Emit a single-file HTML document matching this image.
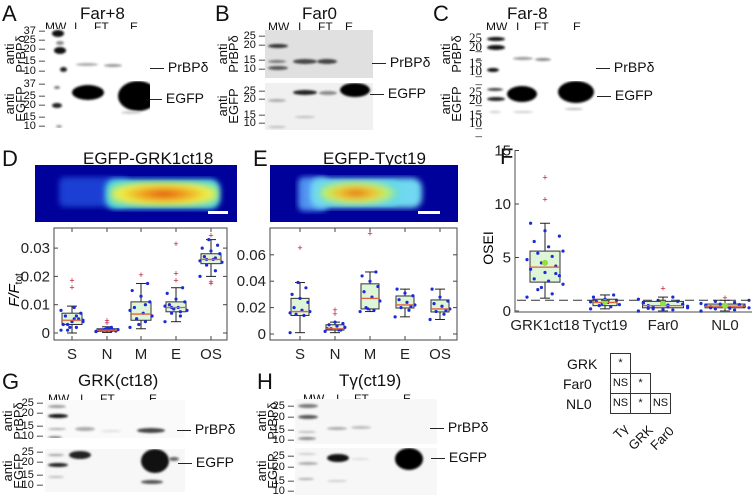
<!DOCTYPE html>
<html><head><meta charset="utf-8">
<style>
body{margin:0;background:#fff;}
#root{position:relative;width:755px;height:495px;overflow:hidden;background:#fff;font-family:"Liberation Sans",sans-serif;color:#111;}
.t{position:absolute;white-space:nowrap;line-height:1;}
.pl{font-size:22px;}
.ti{font-size:17px;}
.ln{font-size:12px;}
.blot{position:absolute;overflow:hidden;}
.band{position:absolute;border-radius:50%;}
.mk{position:absolute;font-size:11px;line-height:1;text-align:right;width:22px;}
.rot{position:absolute;transform:rotate(-90deg);transform-origin:left top;font-size:13px;line-height:11px;text-align:center;white-space:nowrap;}
.cell{position:absolute;width:19px;height:19px;border:1.5px solid #333;font-size:11px;text-align:center;line-height:19px;background:#fff;}
</style></head>
<body>
<div id="root">

<div class="t pl" style="left:2px;top:3px">A</div>
<div class="t ti" style="left:80px;top:5px">Far+8</div>
<div class="t pl" style="left:215px;top:3px">B</div>
<div class="t ti" style="left:302px;top:5px">Far0</div>
<div class="t pl" style="left:433px;top:3px">C</div>
<div class="t ti" style="left:507px;top:5px">Far-8</div>
<div class="t pl" style="left:2px;top:148px">D</div>
<div class="t ti" style="left:83px;top:150px">EGFP-GRK1ct18</div>
<div class="t pl" style="left:253px;top:148px">E</div>
<div class="t ti" style="left:323px;top:150px">EGFP-Tγct19</div>
<div class="t pl" style="left:500px;top:146px">F</div>
<div class="t pl" style="left:2px;top:371px">G</div>
<div class="t ti" style="left:78px;top:372px">GRK(ct18)</div>
<div class="t pl" style="left:257px;top:371px">H</div>
<div class="t ti" style="left:339px;top:372px">Tγ(ct19)</div>

<svg style="position:absolute;left:35px;top:165px" width="202" height="57">
<defs><filter id="bl1"><feGaussianBlur stdDeviation="3"/></filter>
<radialGradient id="rg1" cx="0.5" cy="0.5" r="0.6"><stop offset="0" stop-color="#e05010"/><stop offset="0.35" stop-color="#f0a020"/><stop offset="0.7" stop-color="#f0f040"/><stop offset="1" stop-color="#60e0c0"/></radialGradient></defs>
<rect width="202" height="57" fill="#00009a"/>
<rect x="24" y="12" width="70" height="30" rx="6" fill="#2050e0" filter="url(#bl1)" opacity="0.8"/>
<rect x="70" y="14" width="115" height="30" rx="10" fill="#50d0e0" filter="url(#bl1)"/>
<rect x="75" y="17" width="108" height="24" rx="9" fill="url(#rg1)" filter="url(#bl1)"/>
<rect x="173" y="46" width="20" height="3" fill="#fff"/>
</svg>
<svg style="position:absolute;left:270px;top:165px" width="188" height="57">
<defs><filter id="bl2"><feGaussianBlur stdDeviation="3"/></filter>
<radialGradient id="rg2" cx="0.45" cy="0.5" r="0.55"><stop offset="0" stop-color="#e07010"/><stop offset="0.4" stop-color="#f0c030"/><stop offset="0.7" stop-color="#c0f060"/><stop offset="1" stop-color="#60d8e8"/></radialGradient></defs>
<rect width="188" height="57" fill="#00009a"/>
<rect x="28" y="12" width="30" height="34" rx="6" fill="#5090f0" filter="url(#bl2)"/>
<rect x="40" y="13" width="112" height="30" rx="10" fill="#70d8f0" filter="url(#bl2)"/>
<rect x="50" y="16" width="80" height="24" rx="10" fill="url(#rg2)" filter="url(#bl2)"/>
<rect x="148" y="46" width="22" height="3" fill="#fff"/>
</svg>

<div>
<div class="t" style="left:567px;top:357px;font-size:14px">GRK</div>
<div class="t" style="left:563px;top:377px;font-size:14px">Far0</div>
<div class="t" style="left:566px;top:397px;font-size:14px">NL0</div>
<div class="cell" style="left:610px;top:353px">*</div>
<div class="cell" style="left:610px;top:373px">NS</div>
<div class="cell" style="left:630px;top:373px">*</div>
<div class="cell" style="left:610px;top:393px">NS</div>
<div class="cell" style="left:630px;top:393px">*</div>
<div class="cell" style="left:650px;top:393px">NS</div>
<div class="t" style="left:611px;top:432px;font-size:13px;transform:rotate(-45deg);transform-origin:left top">Tγ</div>
<div class="t" style="left:626px;top:443px;font-size:13px;transform:rotate(-45deg);transform-origin:left top">GRK</div>
<div class="t" style="left:648px;top:443px;font-size:13px;transform:rotate(-45deg);transform-origin:left top">Far0</div>
</div>

<svg id="plots" style="position:absolute;left:0;top:0" width="755" height="495"></svg>
</div>

<script>
const dCats = ['S','N','M','E','OS'];
const dQ1 = [0.003,0.0007,0.0045,0.0075,0.0245];
const dMed = [0.0045,0.001,0.0067,0.009,0.026];
const dQ3 = [0.007,0.0015,0.011,0.011,0.028];
const dLo = [0.0,0.0002,0.0015,0.004,0.020];
const dHi = [0.0095,0.0022,0.0175,0.016,0.033];
const dOut = [[0.016,0.0185],[0.0035,0.0045],[0.0205],[0.0185,0.021,0.0315],[0.0345,0.018,0.0175]];
const dPts = [[0.001,0.002,0.003,0.004,0.005,0.006,0.007,0.004,0.003,0.005,0.002,0.008,0.006,0.001,0.0045,0.009],
              [0.0005,0.0008,0.001,0.0012,0.0015,0.001,0.0007,0.0018,0.0009,0.0011,0.0013,0.0006,0.002,0.001],
              [0.002,0.004,0.005,0.006,0.007,0.009,0.011,0.013,0.015,0.0175,0.003,0.008,0.010,0.005,0.006],
              [0.004,0.006,0.007,0.008,0.009,0.010,0.011,0.012,0.014,0.016,0.0085,0.0095,0.0075,0.009],
              [0.020,0.022,0.024,0.025,0.026,0.027,0.028,0.029,0.030,0.031,0.033,0.0255,0.0265,0.026]];
const dTicks = [0,0.01,0.02,0.03];
const dTickLabels = ['0','0.01','0.02','0.03'];

const eCats = ['S','N','M','E','OS'];
const eQ1 = [0.014,0.003,0.019,0.0197,0.0167];
const eMed = [0.017,0.004,0.027,0.022,0.019];
const eQ3 = [0.027,0.007,0.038,0.0288,0.0258];
const eLo = [0.001,0.001,0.017,0.013,0.011];
const eHi = [0.039,0.009,0.047,0.034,0.034];
const eOut = [[0.065],[0.015,0.018],[0.076],[],[]];
const ePts = [[0.001,0.014,0.015,0.017,0.018,0.02,0.024,0.027,0.03,0.035,0.039,0.016],
              [0.002,0.003,0.004,0.005,0.006,0.007,0.008,0.009,0.004,0.003],
              [0.017,0.018,0.02,0.025,0.028,0.032,0.036,0.04,0.044,0.047,0.019],
              [0.013,0.018,0.02,0.022,0.024,0.026,0.029,0.031,0.034,0.021],
              [0.011,0.015,0.017,0.019,0.021,0.023,0.025,0.028,0.034,0.018]];
const eTicks = [0,0.02,0.04,0.06];
const eTickLabels = ['0','0.02','0.04','0.06'];

const fCats = ['GRK1ct18','Tγct19','Far0','NL0'];
const fQ1 = [2.7,0.5,0.3,0.3];
const fMed = [4.1,0.8,0.5,0.45];
const fQ3 = [5.6,1.1,0.9,0.65];
const fLo = [1.2,0.2,0.0,0.0];
const fHi = [8.2,1.5,1.3,1.0];
const fMean = [4.5,0.85,0.7,0.5];
const fOut = [[10.4,12.5],[],[2.1],[1.2]];
const fPts = [[1.3,1.6,2.0,2.5,2.8,3.0,3.3,3.6,3.9,4.2,4.5,4.8,5.1,5.4,5.6,6.0,6.5,7.0,7.5,8.2,3.5,2.2],
              [0.2,0.4,0.5,0.6,0.8,0.9,1.0,1.1,1.3,1.5,0.7,0.85],
              [0.0,0.1,0.2,0.3,0.4,0.5,0.6,0.7,0.8,0.9,1.0,1.1,1.3,0.35,0.45,0.55,0.25,0.65,0.15,0.75],
              [0.0,0.1,0.2,0.3,0.35,0.4,0.45,0.5,0.55,0.6,0.65,0.7,0.8,0.9,1.0,0.25,0.3,0.42,0.48,0.52]];
const fTicks = [0,5,10,15];
const fTickLabels = ['0','5','10','15'];

const NS='http://www.w3.org/2000/svg';
const svg=document.getElementById('plots');
function mk(tag,attrs){const e=document.createElementNS(NS,tag);for(const k in attrs)e.setAttribute(k,attrs[k]);svg.appendChild(e);return e;}

function boxPlot(cfg){
  const y=v=>cfg.y0-v*cfg.k;
  const x=i=>cfg.xs[i];
  if(cfg.frame){const f=mk('rect',{x:cfg.L,y:cfg.T,width:cfg.R-cfg.L,height:cfg.B-cfg.T,fill:'none',stroke:'#444','stroke-width':1});
    
    }
  else{const a=mk('path',{d:`M${cfg.L},${cfg.T}V${cfg.B}H${cfg.R}`,fill:'none',stroke:'#888','stroke-width':1.5});
    
    }
  cfg.ticks.forEach((t,i)=>{
    mk('line',{x1:cfg.L,x2:cfg.L+4,y1:y(t),y2:y(t),stroke:'#444'});
    if(cfg.frame) mk('line',{x1:cfg.R,x2:cfg.R-4,y1:y(t),y2:y(t),stroke:'#444'});
    const tx=mk('text',{x:cfg.L-4,y:y(t)+5,'text-anchor':'end','font-size':cfg.fs,'font-family':'Liberation Sans, sans-serif',fill:'#222'});
    tx.textContent=cfg.tickLabels[i];
    
    
  });
  cfg.cats.forEach((c,i)=>{
    const cx=x(i),w=cfg.bw[i]/2;
    if(cfg.frame){mk('line',{x1:cx,x2:cx,y1:cfg.T,y2:cfg.T+4,stroke:'#444'});mk('line',{x1:cx,x2:cx,y1:cfg.B,y2:cfg.B-4,stroke:'#444'});}
    const lb=mk('text',{x:cx,y:cfg.B+cfg.lblDy,'text-anchor':'middle','font-size':cfg.fs,'font-family':'Liberation Sans, sans-serif',fill:'#222'});
    lb.textContent=c;
    
    
    const g=mk('g',{});
    
    
    const add=(t,a)=>{const e=document.createElementNS(NS,t);for(const k in a)e.setAttribute(k,a[k]);g.appendChild(e);return e;};
    add('line',{x1:cx,x2:cx,y1:y(cfg.hi[i]),y2:y(cfg.q3[i]),stroke:'#222'});
    add('line',{x1:cx,x2:cx,y1:y(cfg.q1[i]),y2:y(cfg.lo[i]),stroke:'#222'});
    add('line',{x1:cx-5,x2:cx+5,y1:y(cfg.hi[i]),y2:y(cfg.hi[i]),stroke:'#222'});
    add('line',{x1:cx-5,x2:cx+5,y1:y(cfg.lo[i]),y2:y(cfg.lo[i]),stroke:'#222'});
    add('rect',{x:cx-w,y:y(cfg.q3[i]),width:2*w,height:Math.max(1,y(cfg.q1[i])-y(cfg.q3[i])),fill:'#dff5d8',stroke:'#333'});
    cfg.pts[i].forEach((v,j)=>{
      const jx=((j*7)%11-5)/5*w*cfg.spread;
      add('circle',{cx:cx+jx,cy:y(v),r:1.6,fill:'#1a2bd8'});
    });
    add('line',{x1:cx-w,x2:cx+w,y1:y(cfg.med[i]),y2:y(cfg.med[i]),stroke:'#e06040','stroke-width':1.3});
    if(cfg.mean) add('circle',{cx:cx,cy:y(cfg.mean[i]),r:3,fill:'#90e040'});
    cfg.out[i].forEach(v=>{add('text',{x:cx,y:y(v)+3,'text-anchor':'middle','font-size':9,fill:'#c01030','font-family':'Liberation Sans, sans-serif'}).textContent='+';});
  });
}
boxPlot({id:'d-plot',frame:true,L:54,R:227,T:228,B:340,y0:333,k:2830,xs:[72,107,141,176,211],bw:[20,20,20,20,20],spread:1.1,
  cats:dCats,q1:dQ1,med:dMed,q3:dQ3,lo:dLo,hi:dHi,out:dOut,pts:dPts,ticks:dTicks,tickLabels:dTickLabels,fs:15,lblDy:19});
boxPlot({id:'e-plot',frame:true,L:270,R:457,T:228,B:340,y0:334,k:1320,xs:[300,335,370,405,440],bw:[18,18,18,18,18],spread:1.1,
  cats:eCats,q1:eQ1,med:eMed,q3:eQ3,lo:eLo,hi:eHi,out:eOut,pts:ePts,ticks:eTicks,tickLabels:eTickLabels,fs:15,lblDy:19});
boxPlot({id:'f-plot',frame:false,L:515,R:752,T:150,B:312,y0:311,k:10.7,xs:[545,605,663,725],bw:[30,24,41,40],spread:1.2,
  cats:fCats,q1:fQ1,med:fMed,q3:fQ3,lo:fLo,hi:fHi,out:fOut,pts:fPts,mean:fMean,ticks:fTicks,tickLabels:fTickLabels,fs:15,lblDy:18});
const dl=mk('line',{x1:517,x2:752,y1:311-1*10.7,y2:311-1*10.7,stroke:'#333','stroke-dasharray':'9,5'});


const ylab=mk('text',{x:0,y:0,transform:'translate(493,248) rotate(-90)','text-anchor':'middle','font-size':14,'font-family':'Liberation Sans, sans-serif'});
ylab.textContent='OSEI';


const dy=mk('text',{x:0,y:0,transform:'translate(19,290) rotate(-90)','text-anchor':'middle','font-size':15,'font-style':'italic','font-family':'Liberation Sans, sans-serif'});
dy.innerHTML='F/F<tspan font-size="10" font-style="normal" dy="3">tot</tspan>';



const root=document.getElementById('root');
function div(cls,style,text){const d=document.createElement('div');d.className=cls;d.style.cssText=style;if(text!==undefined)d.innerHTML=text;root.appendChild(d);return d;}
function blot(name,x,y,w,h,bg,bands){
  const b=div('blot',`left:${x}px;top:${y}px;width:${w}px;height:${h}px;background:${bg}`);
  
  
  bands.forEach(([bx,by,bw,bh,c])=>{
    const s=document.createElement('div');s.className='band';
    s.style.cssText=`left:${bx}px;top:${by}px;width:${bw}px;height:${bh}px;background:${c};filter:blur(1px)`;
    b.appendChild(s);
  });
}
function markers(x,ys,labels,serif){
  labels.forEach((l,i)=>{
    const m=div('mk',`left:${x}px;top:${ys[i]-6}px;font-family:${serif?'Liberation Serif':'Liberation Sans'},sans-serif;font-size:${serif?13:11}px`,l+' –');
    
    
  });
}
function lanes(pos){pos.forEach(([x,y,t])=>{const l=div('t ln',`left:${x}px;top:${y}px`,t);
  
  });}
function anti(x,y,t2){const a=div('rot',`left:${x}px;top:${y}px;width:48px`,'anti<br>'+t2);
  
  }
function tag(x,y,t){const a=div('t',`left:${x}px;top:${y}px;font-size:14px`,'— '+t);
  
  }

// A
lanes([[45,21,'MW'],[74,21,'I'],[94,21,'FT'],[130,21,'E']]);
blot('blot-a-prbp',46,29,104,48,'#fff',[[6,1,12,7,'#111'],[10,12,8,4,'#888'],[8,18,12,7,'#111'],[14,38,7,5,'#222'],[30,34,22,3,'#aaa'],[58,35,18,3,'#999']]);
blot('blot-a-egfp',46,81,104,47,'#fff',[[8,5,6,3,'#777'],[6,22,10,5,'#222'],[10,44,6,3,'#999'],[26,4,32,15,'#000'],[72,0,40,30,'#000'],[75,30,20,3,'#ccc']]);
markers(23,[32,41,50,62,72],['37','25','20','15','10']);
markers(23,[85,97,106,118,127],['37','25','20','15','10']);
anti(4,78,'PrBPδ');anti(4,128,'EGFP');
tag(150,60,'PrBPδ');tag(148,91,'EGFP');

// B
lanes([[268,21,'MW'],[298,21,'I'],[318,21,'FT'],[345,21,'E']]);
blot('blot-b-prbp',265,30,108,48,'#e0e0e0',[[3,14,20,4,'#333'],[3,30,18,3,'#777'],[3,36,20,4,'#555'],[28,29,24,5,'#444'],[52,29,20,5,'#444']]);
blot('blot-b-egfp',265,83,108,47,'#f0f0f0',[[3,16,18,3,'#aaa'],[3,43,18,2,'#bbb'],[28,7,24,5,'#222'],[54,8,18,4,'#888'],[75,0,30,14,'#000'],[30,33,20,2,'#bbb']]);
markers(243,[37,46,61,70],['25','20','15','10']);
markers(243,[92,100,116,124],['25','20','15','10']);
anti(217,78,'PrBPδ');anti(217,130,'EGFP');
tag(372,55,'PrBPδ');tag(370,86,'EGFP');

// C
lanes([[486,21,'MW'],[516,21,'I'],[534,21,'FT'],[573,21,'E']]);
blot('blot-c-prbp',483,30,117,48,'#fff',[[4,7,18,4,'#111'],[4,15,18,5,'#111'],[4,38,12,4,'#111'],[30,27,20,3,'#999'],[52,28,16,3,'#888']]);
blot('blot-c-egfp',483,81,117,47,'#fff',[[4,7,16,3,'#444'],[4,16,18,4,'#222'],[6,30,12,2,'#ccc'],[24,5,30,16,'#000'],[75,0,36,22,'#000'],[30,30,20,2,'#ccc'],[82,27,18,2,'#bbb']]);
markers(460,[37,46,62,70],['25','20','15','10'],true);
markers(460,[91,99,114,122],['25','20','15','10'],true);
anti(440,78,'PrBPδ');anti(440,128,'EGFP');
tag(596,60,'PrBPδ');tag(597,88,'EGFP');

// G
lanes([[48,393,'MW'],[80,393,'I'],[100,393,'FT'],[149,393,'E']]);
blot('blot-g-prbp',45,400,140,38,'#fafafa',[[3,5,18,3,'#999'],[3,14,20,4,'#111'],[3,28,18,2,'#aaa'],[3,36,14,3,'#888'],[30,27,20,4,'#aaa'],[56,30,20,2,'#ddd'],[92,28,28,5,'#444']]);
blot('blot-g-egfp',45,449,140,43,'#f7f7f7',[[3,5,16,2,'#999'],[3,14,20,4,'#222'],[3,27,16,2,'#bbb'],[24,2,22,8,'#222'],[96,0,28,24,'#111'],[124,8,10,4,'#666'],[96,31,22,4,'#555']]);
markers(21,[404,414,427,437],['25','20','15','10']);
markers(21,[453,463,476,486],['25','20','15','10']);
anti(2,445,'PrBPδ');anti(2,495,'EGFP');
tag(177,422,'PrBPδ');tag(178,455,'EGFP');

// H
lanes([[303,393,'MW'],[336,393,'I'],[354,393,'FT'],[403,393,'E']]);
blot('blot-h-prbp',295,399,142,45,'#f7f7f7',[[3,5,20,4,'#777'],[3,16,20,4,'#555'],[3,32,18,2,'#bbb'],[3,38,18,3,'#888'],[32,28,20,3,'#aaa'],[56,27,20,3,'#bbb']]);
blot('blot-h-egfp',295,448,142,47,'#f7f7f7',[[3,5,18,2,'#ccc'],[3,14,20,3,'#aaa'],[3,30,16,2,'#aaa'],[32,6,22,8,'#111'],[56,10,18,2,'#ddd'],[100,0,28,22,'#000'],[32,32,20,2,'#ccc']]);
markers(272,[407,418,431,441],['25','20','15','10']);
markers(272,[457,468,482,492],['25','20','15','10']);
anti(256,445,'PrBPδ');anti(256,495,'EGFP');
tag(430,420,'PrBPδ');tag(431,450,'EGFP');
</script>
</body></html>
